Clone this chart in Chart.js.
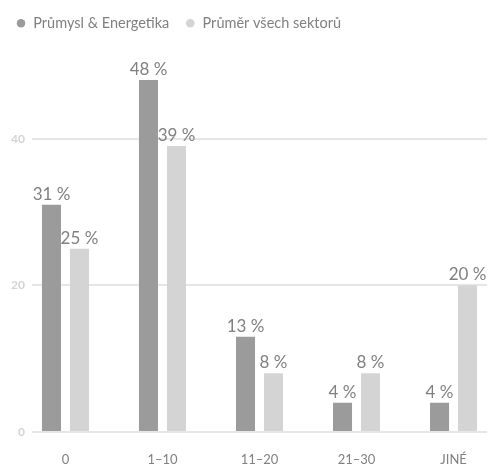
<!DOCTYPE html>
<html>
<head>
<meta charset="utf-8">
<script src="https://cdn.jsdelivr.net/npm/chart.js@4.4.1/dist/chart.umd.min.js"></script>
<style>
    html, body { margin: 0; padding: 0; background: #fff; }
    #wrap { width: 489px; height: 465px; }
</style>
</head>
<body>
<div id="wrap"><canvas id="sectorChart"></canvas></div>
<script>
// Chart data
const categories = ['0', '1–10', '11–20', '21–30', 'JINÉ'];
const seriesNames = ['Průmysl & Energetika', 'Průměr všech sektorů'];
const industryValues = [31, 48, 13, 4, 4];
const averageValues = [25, 39, 8, 8, 20];
const yTicks = [0, 20, 40];

const FONT = 'Lato, "Open Sans", sans-serif';

// Value labels above bars ("31 %")
const valueLabels = {
    id: 'valueLabels',
    afterDatasetsDraw(chart) {
        const ctx = chart.ctx;
        ctx.save();
        ctx.font = '17px ' + FONT;
        ctx.fillStyle = '#808080';
        ctx.textAlign = 'center';
        ctx.textBaseline = 'alphabetic';
        chart.data.datasets.forEach((ds, i) => {
            chart.getDatasetMeta(i).data.forEach((bar, j) => {
                ctx.fillText(ds.data[j] + ' %', bar.x, bar.y - 5);
            });
        });
        ctx.restore();
    }
};

// Shift the category slots a bit so groups sit like in the original
const categoryShift = {
    id: 'categoryShift',
    afterLayout(chart) {
        const x = chart.scales.x;
        x._startValue = -0.345;
        x._valueRange = 4.69;
    }
};

function initChart() {
    const ctx = document.getElementById('sectorChart').getContext('2d');

    const data = {
        labels: categories,
        datasets: [{
            label: seriesNames[0],
            data: industryValues,
            backgroundColor: '#9b9b9b'
        }, {
            label: seriesNames[1],
            data: averageValues,
            backgroundColor: '#d4d4d4'
        }]
    };

    const config = {
        type: 'bar',
        data: data,
        options: {
            responsive: true,
            maintainAspectRatio: false,
            animation: false,
            categoryPercentage: 0.577,
            barPercentage: 0.68,
            layout: {
                padding: { left: 0, right: 2, top: 0, bottom: 0 }
            },
            plugins: {
                legend: {
                    align: 'start',
                    labels: {
                        usePointStyle: true,
                        pointStyle: 'circle',
                        boxWidth: 10,
                        boxHeight: 6,
                        padding: 16,
                        color: '#808080',
                        font: { family: FONT, size: 14.5 }
                    }
                },
                tooltip: { enabled: false }
            },
            scales: {
                y: {
                    min: 0,
                    max: 53.4,
                    afterBuildTicks: function(scale) {
                        scale.ticks = yTicks.map(v => ({ value: v }));
                    },
                    afterFit: function(scale) {
                        scale.width = 32;
                    },
                    border: { display: false },
                    grid: {
                        color: '#e6e6e6',
                        lineWidth: 2,
                        drawTicks: false
                    },
                    ticks: {
                        padding: 7,
                        color: '#d4d4d4',
                        font: { family: FONT, size: 12, weight: 'bold' }
                    }
                },
                x: {
                    afterFit: function(scale) {
                        scale.height = 33;
                    },
                    border: { display: false },
                    grid: { display: false, drawTicks: false },
                    ticks: {
                        padding: 20,
                        color: '#808080',
                        font: { family: FONT, size: 13 }
                    }
                }
            }
        },
        plugins: [categoryShift, valueLabels]
    };

    new Chart(ctx, config);
}

document.addEventListener('DOMContentLoaded', initChart);
</script>
</body>
</html>
